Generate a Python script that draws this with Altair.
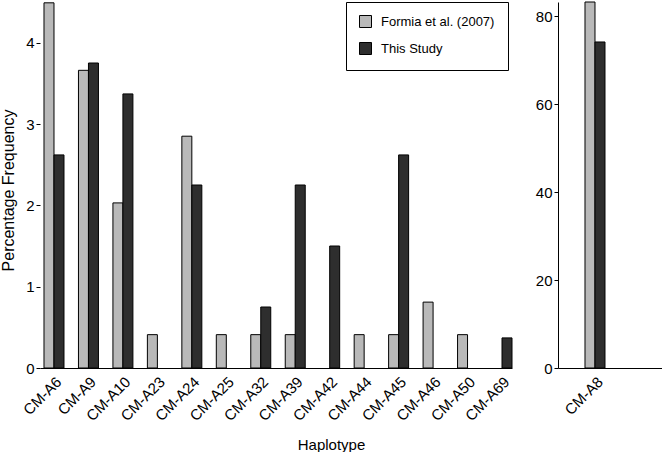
import altair as alt
import pandas as pd

# Minor haplotypes (left panel), percentage frequencies
haplotypes = ["CM-A6", "CM-A9", "CM-A10", "CM-A23", "CM-A24", "CM-A25", "CM-A32",
              "CM-A39", "CM-A42", "CM-A44", "CM-A45", "CM-A46", "CM-A50", "CM-A69"]
formia = [4.49, 3.66, 2.03, 0.41, 2.85, 0.41, 0.41, 0.41, 0.0, 0.41, 0.41, 0.81, 0.41, 0.0]
this_study = [2.62, 3.75, 3.37, 0.0, 2.25, 0.0, 0.75, 2.25, 1.50, 0.0, 2.62, 0.0, 0.0, 0.37]

# Dominant haplotype (right panel)
major_haplotype = ["CM-A8"]
formia_major = [83.3]
this_study_major = [74.2]

series = ["Formia et al. (2007)", "This Study"]
colors = ["#b9b9b9", "#2e2e2e"]


def long_table(names, a, b):
    rows = []
    for n, va, vb in zip(names, a, b):
        if va > 0:
            rows.append({"haplotype": n, "series": series[0], "value": va})
        if vb > 0:
            rows.append({"haplotype": n, "series": series[1], "value": vb})
    return pd.DataFrame(rows)


left_df = long_table(haplotypes, formia, this_study)
right_df = long_table(major_haplotype, formia_major, this_study_major)

FONT = "Liberation Sans"

color = alt.Color(
    "series:N",
    scale=alt.Scale(domain=series, range=colors),
    legend=alt.Legend(
        title=None, orient="none", legendX=306, legendY=0,
        strokeColor="black", fillColor="white", padding=13,
        symbolType="square", symbolSize=144, symbolStrokeColor="black",
        symbolStrokeWidth=1, symbolOpacity=1, labelFontSize=13,
        labelFont=FONT, labelColor="black", rowPadding=10, labelOffset=9,
    ),
)

x_label_axis = dict(
    labelAngle=-45, labelAlign="right", labelBaseline="top",
    labelFontSize=15, labelFont=FONT, labelColor="black",
    ticks=False, labelPadding=6, domainColor="black",
)

left = alt.Chart(left_df).mark_bar(stroke="black", strokeWidth=1).encode(
    x=alt.X(
        "haplotype:N", sort=haplotypes,
        scale=alt.Scale(paddingInner=0.42, paddingOuter=0.058, align=1),
        axis=alt.Axis(
            title="Haplotype", titleFontSize=15, titleFont=FONT,
            titleFontWeight="normal", titleColor="black",
            titleX=291, titleY=76, titleBaseline="middle", titleAnchor="middle",
            **x_label_axis,
        ),
    ),
    xOffset=alt.XOffset("series:N", sort=series,
                        scale=alt.Scale(paddingInner=0, paddingOuter=0)),
    y=alt.Y(
        "value:Q",
        scale=alt.Scale(domain=[0, 4.5], nice=False),
        axis=alt.Axis(
            title="Percentage Frequency", values=[0, 1, 2, 3, 4], domain=False,
            tickSize=4, tickColor="black", labelPadding=2, labelFontSize=15,
            labelFont=FONT, labelColor="black", titleFontSize=16, titleFont=FONT,
            titleFontWeight="normal", titleColor="black", titlePadding=9,
            titleY=188,
        ),
    ),
    color=color,
).properties(width=472, height=366)

right = alt.Chart(right_df).mark_bar(stroke="black", strokeWidth=1).encode(
    x=alt.X(
        "haplotype:N", sort=major_haplotype,
        scale=alt.Scale(paddingInner=0.5, paddingOuter=1, align=0.3245),
        axis=alt.Axis(title=None, **x_label_axis),
    ),
    xOffset=alt.XOffset("series:N", sort=series,
                        scale=alt.Scale(paddingInner=0, paddingOuter=0)),
    y=alt.Y(
        "value:Q",
        scale=alt.Scale(domain=[0, 83.3], nice=False),
        axis=alt.Axis(
            title=None, values=[0, 20, 40, 60, 80], domain=True,
            domainColor="black", tickSize=4, tickColor="black", labelPadding=2,
            labelFontSize=15, labelFont=FONT, labelColor="black",
        ),
    ),
    color=color,
).properties(width=104, height=366)

chart = alt.hconcat(left, right, spacing=46, bounds="flush").properties(
    padding={"left": 0, "top": 1, "right": 0, "bottom": 0},
    background="white",
).configure_view(stroke=None).configure_axis(grid=False)

chart.save("out.html", embed_options={"renderer": "svg", "actions": False})
